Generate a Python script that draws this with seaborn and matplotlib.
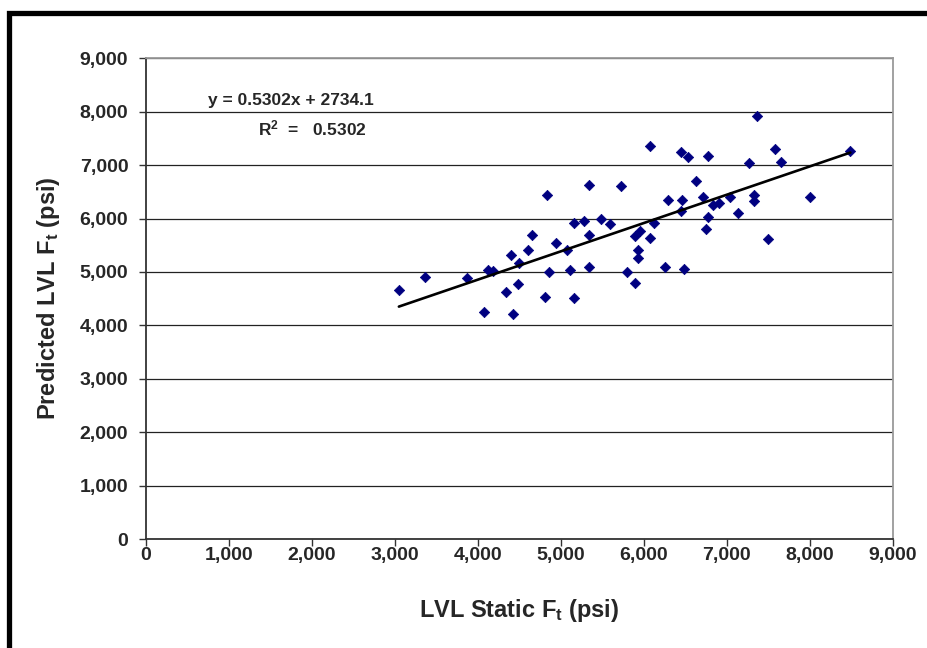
import matplotlib
matplotlib.use("Agg")
import matplotlib.pyplot as plt
import matplotlib.ticker as mticker
from matplotlib.patches import Rectangle
import numpy as np
import pandas as pd
import seaborn as sns

# Static tension strength (x) vs. predicted strength (y), psi
static_ft = [3050, 3370, 3870, 4080, 4120, 4190, 4340, 4420, 4400, 4490,
             4500, 4600, 4650, 4810, 4860, 4940, 5080, 5110, 5160, 5160,
             4830, 6080, 6450, 6530, 6780, 6630, 5340, 5730, 6290, 6460,
             6720, 6450, 6830, 6910, 7040, 7140, 5280, 5480, 5590, 5340,
             6780, 6750, 6130, 5950, 5900, 6080, 5930, 5930, 5340, 5800,
             6260, 6480, 5890, 7365, 7580, 7270, 7650, 8490, 7330, 7330,
             8000, 7500]
predicted_ft = [4670, 4900, 4890, 4250, 5040, 5020, 4620, 4210, 5310, 4780,
                5170, 5410, 5690, 4530, 4990, 5540, 5410, 5030, 5910, 4520,
                6440, 7360, 7240, 7150, 7170, 6700, 6630, 6610, 6340, 6350,
                6400, 6150, 6250, 6300, 6400, 6100, 5950, 6000, 5900, 5700,
                6020, 5810, 5910, 5760, 5680, 5640, 5420, 5270, 5090, 4990,
                5100, 5060, 4790, 7920, 7310, 7040, 7060, 7260, 6450, 6330,
                6400, 5620]

# Linear trend line and its stated fit
slope = 0.5302
intercept = 2734.1
r_squared = 0.5302

axis_ticks = [0, 1000, 2000, 3000, 4000, 5000, 6000, 7000, 8000, 9000]

sns.set_theme(style="white")
plt.rcParams["font.family"] = ["Liberation Sans", "DejaVu Sans"]
plt.rcParams["font.weight"] = "bold"
plt.rcParams["mathtext.fontset"] = "custom"
plt.rcParams["mathtext.rm"] = "Liberation Sans:bold"
plt.rcParams["mathtext.bf"] = "Liberation Sans:bold"
plt.rcParams["mathtext.it"] = "Liberation Sans:bold"

df = pd.DataFrame({"static": static_ft, "predicted": predicted_ft})

fig = plt.figure(figsize=(9.27, 6.48), dpi=100)
fig.patch.set_facecolor("white")
ax = fig.add_axes([0.1572, 0.1682, 0.8058, 0.7418])

sns.scatterplot(data=df, x="static", y="predicted", ax=ax, marker="D",
                color="#000080", edgecolor="#000080", s=28, linewidth=0.5,
                zorder=3)

trend_x = np.array([min(static_ft), max(static_ft)])
trend = pd.DataFrame({"x": trend_x, "y": slope * trend_x + intercept})
sns.lineplot(data=trend, x="x", y="y", ax=ax, color="black", linewidth=1.9,
             zorder=4)

ax.set_xlim(0, 9000)
ax.set_ylim(0, 9000)
ax.set_xticks(axis_ticks)
ax.set_yticks(axis_ticks)
fmt = mticker.StrMethodFormatter("{x:,.0f}")
ax.xaxis.set_major_formatter(fmt)
ax.yaxis.set_major_formatter(fmt)

ax.yaxis.grid(True, color="#222222", linewidth=0.9)
ax.xaxis.grid(False)
ax.set_axisbelow(True)

for side in ("left", "bottom"):
    ax.spines[side].set_color("#333333")
    ax.spines[side].set_linewidth(1.3)
for side in ("top", "right"):
    ax.spines[side].set_color("#9a9a9a")
    ax.spines[side].set_linewidth(1.3)

ax.tick_params(axis="both", direction="out", length=5, width=1,
               color="#333333", labelsize=14, bottom=True, left=True)
ax.tick_params(axis="y", pad=7.5)
ax.tick_params(axis="x", pad=0.5)
for lbl in ax.get_xticklabels() + ax.get_yticklabels():
    lbl.set_fontweight("bold")

ax.set_xlabel(r"LVL Static F$_\mathrm{t}$ (psi)", fontsize=17,
              fontweight="bold", labelpad=24)
ax.set_ylabel(r"Predicted LVL F$_\mathrm{t}$ (psi)", fontsize=17,
              fontweight="bold", labelpad=13)

ax.text(0.1945, 0.913, f"y = {slope}x + {intercept}", transform=ax.transAxes,
        ha="center", va="center", fontsize=12.5, fontweight="bold")
ax.text(0.1503, 0.855, f"R$^2$  =   {r_squared}", transform=ax.transAxes,
        ha="left", va="center", fontsize=12.5, fontweight="bold")

# Chart frame: heavy black rule on the left and top edges
fig.patches.append(Rectangle((9.3 / 927, -0.2), 1.5, (648 - 12.5) / 648 + 0.2,
                             transform=fig.transFigure, fill=False,
                             edgecolor="black", linewidth=3.8, zorder=10))

fig.savefig("out.png", dpi=100, facecolor="white")
